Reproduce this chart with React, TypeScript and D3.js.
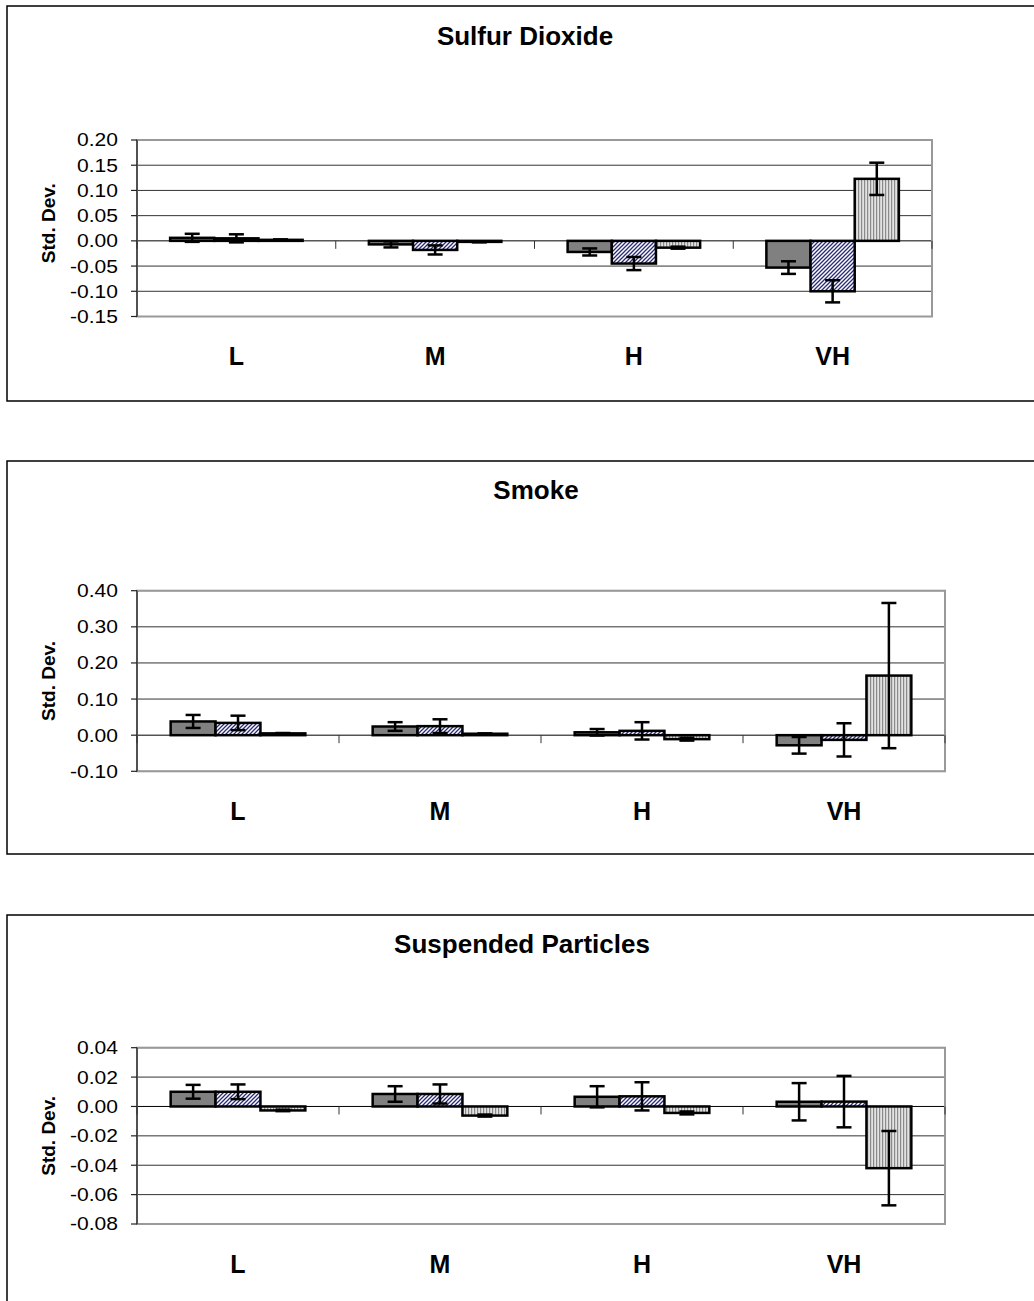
import React from "react";
import * as d3 from "d3";

const categories = ["L", "M", "H", "VH"];

const so2Titles = "Sulfur Dioxide";
const so2Ticks = [0.2, 0.15, 0.1, 0.05, 0, -0.05, -0.1, -0.15];
const so2Series1 = [0.006, -0.007, -0.022, -0.053];
const so2Err1 = [0.008, 0.006, 0.007, 0.0125];
const so2Series2 = [0.005, -0.018, -0.045, -0.1];
const so2Err2 = [0.008, 0.009, 0.013, 0.022];
const so2Series3 = [0.002, -0.002, -0.0135, 0.123];
const so2Err3 = [0.001, 0.001, 0.002, 0.032];

const smokeTitle = "Smoke";
const smokeTicks = [0.4, 0.3, 0.2, 0.1, 0, -0.1];
const smokeSeries1 = [0.038, 0.024, 0.008, -0.028];
const smokeErr1 = [0.018, 0.012, 0.009, 0.023];
const smokeSeries2 = [0.034, 0.025, 0.012, -0.013];
const smokeErr2 = [0.02, 0.019, 0.024, 0.046];
const smokeSeries3 = [0.005, 0.004, -0.011, 0.165];
const smokeErr3 = [0.001, 0.001, 0.004, 0.201];

const spTitle = "Suspended Particles";
const spTicks = [0.04, 0.02, 0, -0.02, -0.04, -0.06, -0.08];
const spSeries1 = [0.01, 0.0085, 0.0066, 0.0032];
const spErr1 = [0.0047, 0.0053, 0.0072, 0.0127];
const spSeries2 = [0.01, 0.0085, 0.0069, 0.0033];
const spErr2 = [0.005, 0.0065, 0.0096, 0.0175];
const spSeries3 = [-0.0027, -0.0062, -0.0044, -0.042];
const spErr3 = [0.0005, 0.0007, 0.001, 0.0253];

const seriesKeys = ["s1", "s2", "s3"];
const fills = ["#808080", "url(#diagPat)", "url(#vertPat)"];

type PanelDef = {
  title: string;
  ticks: number[];
  values: number[][];
  errs: number[][];
  frameTop: number;
  frameBottom: number;
  plotTop: number;
  plotBottom: number;
  plotRight: number;
  titleX: number;
  titleY: number;
  labelDy: number;
};

const panels: PanelDef[] = [
  {
    title: so2Titles,
    ticks: so2Ticks,
    values: [so2Series1, so2Series2, so2Series3],
    errs: [so2Err1, so2Err2, so2Err3],
    frameTop: 6,
    frameBottom: 401,
    plotTop: 140,
    plotBottom: 316.5,
    plotRight: 932,
    titleX: 525,
    titleY: 45,
    labelDy: -5,
  },
  {
    title: smokeTitle,
    ticks: smokeTicks,
    values: [smokeSeries1, smokeSeries2, smokeSeries3],
    errs: [smokeErr1, smokeErr2, smokeErr3],
    frameTop: 461,
    frameBottom: 854,
    plotTop: 590.7,
    plotBottom: 771.3,
    plotRight: 945,
    titleX: 536,
    titleY: 499,
    labelDy: 0,
  },
  {
    title: spTitle,
    ticks: spTicks,
    values: [spSeries1, spSeries2, spSeries3],
    errs: [spErr1, spErr2, spErr3],
    frameTop: 915,
    frameBottom: 1320,
    plotTop: 1047.7,
    plotBottom: 1224,
    plotRight: 945,
    titleX: 522,
    titleY: 953,
    labelDy: 0,
  },
];

const FONT = "'Liberation Sans', Arial, Helvetica, sans-serif";
const plotLeft = 137;
const fmt = (t: number) => d3.format(".2f")(t).replace("\u2212", "-");

function Panel({ p }: { p: PanelDef }) {
  const x = d3
    .scaleBand<string>()
    .domain(categories)
    .range([plotLeft, p.plotRight])
    .paddingInner(1.5 / 4.5)
    .paddingOuter(0.75 / 4.5);
  const xs = d3.scaleBand<string>().domain(seriesKeys).range([0, x.bandwidth()]);
  const y = d3
    .scaleLinear()
    .domain([d3.min(p.ticks)!, d3.max(p.ticks)!])
    .range([p.plotBottom, p.plotTop]);
  const y0 = y(0);
  const step = x.step();
  const boundaries = d3.range(categories.length + 1).map((i) => plotLeft + i * step);
  const cap = 7.5;
  return (
    <g>
      <rect
        x={7}
        y={p.frameTop}
        width={1040}
        height={p.frameBottom - p.frameTop}
        fill="white"
        stroke="#000"
        strokeWidth={1.5}
      />
      <text
        x={p.titleX}
        y={p.titleY}
        textAnchor="middle"
        fontFamily={FONT}
        fontWeight="bold"
        fontSize={26}
      >
        {p.title}
      </text>
      {p.ticks.map((t) => (
        <line
          key={"g" + t}
          x1={plotLeft}
          x2={p.plotRight}
          y1={y(t)}
          y2={y(t)}
          stroke={t === 0 ? "#000" : "#333"}
          strokeWidth={1}
        />
      ))}
      <rect
        x={plotLeft}
        y={p.plotTop}
        width={p.plotRight - plotLeft}
        height={p.plotBottom - p.plotTop}
        fill="none"
        stroke="#999"
        strokeWidth={2}
      />
      <line x1={plotLeft} x2={plotLeft} y1={p.plotTop} y2={p.plotBottom} stroke="#222" strokeWidth={1.2} />
      {p.ticks.map((t) => (
        <g key={"t" + t}>
          <line x1={plotLeft - 6} x2={plotLeft} y1={y(t)} y2={y(t)} stroke="#222" strokeWidth={1.2} />
          <text
            transform={`translate(118,${y(t)}) scale(1.17,1)`}
            textAnchor="end"
            dy="0.36em"
            fontFamily={FONT}
            fontSize={18}
          >
            {fmt(t)}
          </text>
        </g>
      ))}
      {boundaries.map((bx, i) => (
        <line key={"b" + i} x1={bx} x2={bx} y1={y0} y2={y0 + 8} stroke="#333" strokeWidth={1} />
      ))}
      {p.values.map((vals, si) =>
        vals.map((v, ci) => {
          const bx = x(categories[ci])! + xs(seriesKeys[si])!;
          const top = Math.min(y(v), y0);
          const h = Math.abs(y(v) - y0);
          return (
            <rect
              key={`r${si}-${ci}`}
              x={bx}
              y={top}
              width={xs.bandwidth()}
              height={h}
              fill={fills[si]}
              stroke="#000"
              strokeWidth={2.5}
            />
          );
        })
      )}
      {p.values.map((vals, si) =>
        vals.map((v, ci) => {
          const cx = x(categories[ci])! + xs(seriesKeys[si])! + xs.bandwidth() / 2;
          const e = p.errs[si][ci];
          const ya = y(v + e);
          const yb = y(v - e);
          return (
            <g key={`e${si}-${ci}`} stroke="#000" strokeWidth={2.5}>
              <line x1={cx} x2={cx} y1={ya} y2={yb} />
              <line x1={cx - cap} x2={cx + cap} y1={ya} y2={ya} />
              <line x1={cx - cap} x2={cx + cap} y1={yb} y2={yb} />
            </g>
          );
        })
      )}
      {categories.map((c) => (
        <text
          key={"c" + c}
          x={x(c)! + x.bandwidth() / 2}
          y={p.plotBottom + 48.5}
          textAnchor="middle"
          fontFamily={FONT}
          fontWeight="bold"
          fontSize={25}
        >
          {c}
        </text>
      ))}
      <text
        transform={`translate(48.5,${(p.plotTop + p.plotBottom) / 2 + p.labelDy}) rotate(-90)`}
        textAnchor="middle"
        dy="0.36em"
        fontFamily={FONT}
        fontWeight="bold"
        fontSize={19}
      >
        Std. Dev.
      </text>
    </g>
  );
}

export default function App() {
  return (
    <svg
      width={1034}
      height={1301}
      style={{ position: "absolute", left: 0, top: 0, background: "white" }}
    >
      <defs>
        <pattern id="diagPat" width={4} height={4} patternUnits="userSpaceOnUse">
          <rect width={4} height={4} fill="#ffffff" />
          <path d="M-1,1 l2,-2 M0,4 l4,-4 M3,5 l2,-2" stroke="#2b2b7a" strokeWidth={1.3} />
        </pattern>
        <pattern id="vertPat" width={3} height={3} patternUnits="userSpaceOnUse">
          <rect width={3} height={3} fill="#e2e2e2" />
          <rect x={0} width={1.2} height={3} fill="#8a8a8a" />
        </pattern>
      </defs>
      <rect width={1034} height={1301} fill="white" />
      {panels.map((p, i) => (
        <Panel key={i} p={p} />
      ))}
    </svg>
  );
}
